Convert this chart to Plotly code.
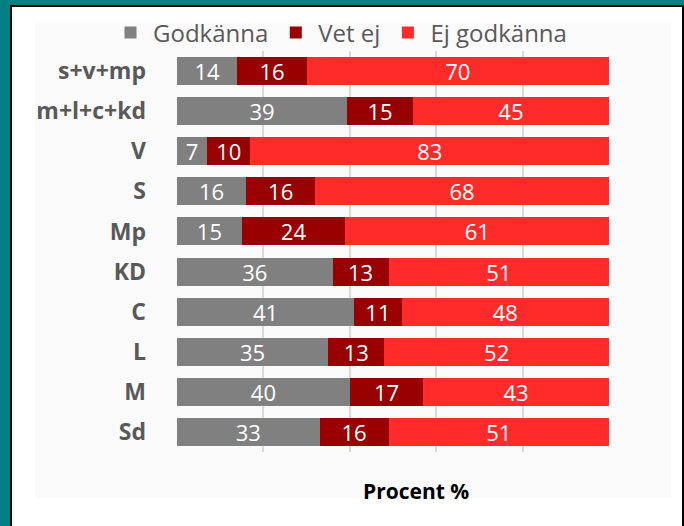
import plotly.graph_objects as go

categories = ["s+v+mp", "m+l+c+kd", "V", "S", "Mp", "KD", "C", "L", "M", "Sd"]
godkanna = [14, 39.4, 7, 16, 15, 36, 41, 35, 40, 33]
vet_ej = [16, 15.2, 10, 16, 24, 13, 11, 13, 17, 16]
ej_godkanna = [70, 45.4, 83, 68, 61, 51, 48, 52, 43, 51]
series_names = ["Godkänna", "Vet ej", "Ej godkänna"]
colors = ["#808080", "#990000", "#ff2a2a"]
x_ticks = [0, 20, 40, 60, 80, 100]

W, H = 684, 526
L, R, T, B = 177, 609, 50, 452

def px_x(p):
    return (p - L) / (R - L)

def px_y(p):
    return (B - p) / (B - T)

FONT = "Open Sans"

fig = go.Figure()
for name, vals, col in zip(series_names, [godkanna, vet_ej, ej_godkanna], colors):
    fig.add_trace(go.Bar(
        y=categories, x=vals, name=name, orientation="h",
        marker=dict(color=col, line=dict(width=0)),
        texttemplate="%{x:.0f}", textposition="inside", insidetextanchor="middle",
        textangle=0, constraintext="none",
        textfont=dict(color="white", size=22, family=FONT),
        hoverinfo="skip",
    ))

shapes = [
    dict(type="rect", xref="paper", yref="paper",
         x0=px_x(11), x1=px_x(683), y0=px_y(540), y1=px_y(5),
         fillcolor="white", line=dict(color="black", width=2), layer="below"),
    dict(type="rect", xref="paper", yref="paper",
         x0=px_x(35), x1=px_x(671), y0=px_y(498), y1=px_y(22),
         fillcolor="#fafafa", line=dict(width=0), layer="below"),
]

fig.update_layout(
    width=W, height=H,
    margin=dict(l=L, r=W - R, t=T, b=H - B, pad=0),
    paper_bgcolor="#008080",
    plot_bgcolor="rgba(0,0,0,0)",
    barmode="stack", bargap=0.3,
    shapes=shapes,
    showlegend=True,
    legend=dict(orientation="h", x=px_x(108), xanchor="left", y=px_y(33), yanchor="middle",
                font=dict(family=FONT, size=24, color="#595959"),
                bgcolor="rgba(0,0,0,0)", traceorder="normal", itemwidth=35),
    annotations=[dict(text="<b>Procent %</b>", xref="paper", yref="paper",
                      x=px_x(416), y=px_y(491), xanchor="center", yanchor="middle",
                      showarrow=False,
                      font=dict(family=FONT, size=21, color="black"))],
)
fig.update_xaxes(range=[0, 100], tickvals=x_ticks, showticklabels=False,
                 showgrid=True, gridcolor="#d9d9d9", gridwidth=1.5,
                 zeroline=False, showline=False, fixedrange=True)
fig.update_yaxes(autorange="reversed", showgrid=False, zeroline=False,
                 ticklabelstandoff=30, fixedrange=True,
                 tickfont=dict(family=FONT, size=23, color="#595959", weight="bold"),
                 showline=False)

fig.write_html("out.html", config={"displayModeBar": False},
               post_script="document.body.style.margin='0';document.body.style.overflow='hidden';")
